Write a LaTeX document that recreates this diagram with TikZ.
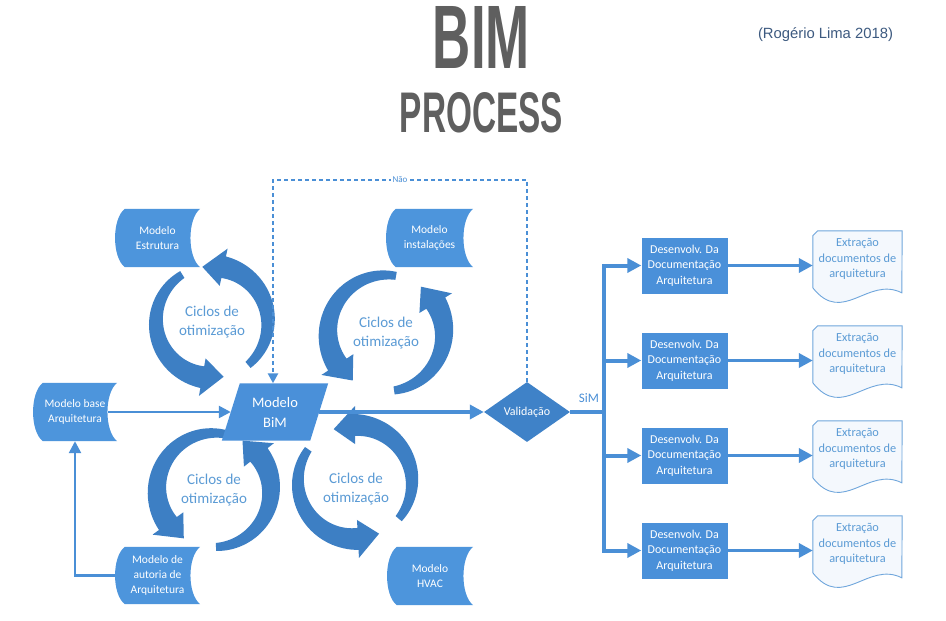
\documentclass[tikz,border=0pt]{standalone}
\usepackage{graphicx}
\usepackage{fontspec}
\setmainfont{Carlito}
\newfontfamily\titlefont{Liberation Sans}
\usetikzlibrary{arrows.meta,shapes.geometric,calc}
\pgfdeclarelayer{bg}\pgfdeclarelayer{shp}\pgfsetlayers{bg,shp,main}
\definecolor{nodeblue}{HTML}{4A90D9}
\definecolor{sdfill}{HTML}{4D95DC}
\definecolor{diamblue}{HTML}{3F82C8}
\definecolor{arrowblue}{HTML}{3D7FC4}
\definecolor{linkblue}{HTML}{4A8FD6}
\definecolor{cyctext}{HTML}{5B9BD5}
\definecolor{docline}{HTML}{6FA6DC}
\definecolor{docfill}{HTML}{F4F8FD}
\definecolor{titlegray}{HTML}{5F5F5F}
\definecolor{creditcol}{HTML}{3D5A80}
% tapered circular block arrow: cx, cy, a1, a2 (ccw on page), R
\newcommand\cycarrow[5]{%
\begin{pgfonlayer}{bg}
\fill[arrowblue,shift={(#1,#2)}]
 plot[domain=#3:#4-22,samples=40,variable=\t] ({0-(\t)}:{#5+4+7*(\t-(#3))/((#4)-22-(#3))})
 -- ({0-((#4)-22)}:{#5+19}) -- ({0-(#4)}:{#5}) -- ({0-((#4)-22)}:{#5-19})
 -- plot[domain=#4-22:#3,samples=40,variable=\t] ({0-(\t)}:{#5-4-7*(\t-(#3))/((#4)-22-(#3))})
 -- cycle;
\end{pgfonlayer}}
% stored-data shape behind a named node
\newcommand\sdshape[1]{%
\begin{pgfonlayer}{shp}
\fill[sdfill] ($(#1.north west)+(10,0)$) -- (#1.north east)
 .. controls ($(#1.north east)+(-13,10)$) and ($(#1.south east)+(-13,-10)$) .. (#1.south east)
 -- ($(#1.south west)+(10,0)$)
 .. controls ($(#1.south west)+(-3,-10)$) and ($(#1.north west)+(-3,10)$) .. ($(#1.north west)+(10,0)$) -- cycle;
\end{pgfonlayer}}
% document shape behind a named node
\newcommand\docshape[1]{%
\begin{pgfonlayer}{shp}
\filldraw[fill=docfill,draw=docline,line width=0.9pt]
 ($(#1.north west)+(0,5)$) -- ($(#1.north west)+(5,0)$) -- (#1.north east)
 -- ($(#1.north west)+(89,62)$)
 .. controls ($(#1.north west)+(55,45)$) and ($(#1.north west)+(30,95)$) .. ($(#1.north west)+(0,57)$)
 -- cycle;
\end{pgfonlayer}}
\begin{document}
\begin{tikzpicture}[x=1pt,y=-1pt,
 sdnode/.style={minimum width=85pt,minimum height=58pt,inner sep=0pt,align=center,text=white,font=\fontsize{11.5}{15}\selectfont},
 devbox/.style={fill=nodeblue,minimum width=86pt,minimum height=56pt,inner sep=0pt,align=center,text=white,font=\fontsize{12}{15.5}\selectfont},
 docnode/.style={minimum width=89pt,minimum height=56pt,inner sep=0pt,align=center,text=cyctext,font=\fontsize{12.3}{15.5}\selectfont},
 cyclabel/.style={align=center,text=cyctext,font=\fontsize{15}{19}\selectfont},
 link/.style={draw=linkblue,line width=2.5pt,-{Triangle[length=12pt,width=12pt]}},
 midlink/.style={draw=linkblue,line width=3.5pt,-{Triangle[length=14pt,width=14pt]}},
 biglink/.style={draw=linkblue,line width=4pt,-{Triangle[length=14pt,width=14pt]}},
 dashlink/.style={draw=linkblue,line width=2.5pt,dash pattern=on 4pt off 3pt,-{Triangle[length=10pt,width=10pt]}}]
\useasboundingbox (0,0) rectangle (946,621);
\begin{pgfonlayer}{bg}
\fill[white] (0,0) rectangle (946,621);
\end{pgfonlayer}
% title
\node[inner sep=0pt] (tbim) at (481.5,37) {\resizebox{97pt}{62pt}{\titlefont\bfseries\color{titlegray}BIM}};
\node[inner sep=0pt] (tproc) at (481.5,113) {\resizebox{163pt}{40pt}{\titlefont\bfseries\color{titlegray}PROCESS}};
\node[inner sep=0pt] (credit) at (825.5,35) {\resizebox{135pt}{!}{\titlefont\color{creditcol}(Rogério Lima 2018)}};
% cycles
\cycarrow{212}{322}{-50}{100}{56}
\cycarrow{212}{322}{122}{282}{56}
\cycarrow{386}{333}{80}{235}{58}
\cycarrow{386}{333}{278}{413}{58}
\cycarrow{214}{490}{75}{238}{57}
\cycarrow{214}{490}{272}{420}{57}
\cycarrow{355}{482}{-40}{112}{57}
\cycarrow{355}{482}{145}{295}{57}
\node[cyclabel] (c1) at (212,322) {Ciclos de\\otimização};
\node[cyclabel] (c2) at (386,333) {Ciclos de\\otimização};
\node[cyclabel] (c3) at (214,490) {Ciclos de\\otimização};
\node[cyclabel] (c4) at (356,489) {Ciclos de\\otimização};
% stored-data models
\node[sdnode] (mEst) at (157.5,238) {Modelo\\Estrutura};
\node[sdnode,minimum width=87pt] (mInst) at (429.5,238) {Modelo\\instalações};
\node[sdnode,minimum width=84pt] (mBase) at (75,412) {Modelo base\\Arquitetura};
\node[sdnode,minimum height=57pt] (mAut) at (157.5,575.5) {Modelo de\\autoria de\\Arquitetura};
\node[sdnode,minimum width=86pt] (mHvac) at (430,576) {Modelo\\HVAC};
\sdshape{mEst}\sdshape{mInst}\sdshape{mBase}\sdshape{mAut}\sdshape{mHvac}
% BIM model parallelogram
\node[minimum width=106pt,minimum height=57pt,inner sep=0pt,align=center,text=white,font=\fontsize{14.5}{20}\selectfont] (mBim) at (275,412) {Modelo\\BiM};
\begin{pgfonlayer}{shp}
\fill[nodeblue] ($(mBim.north west)+(18,0)$) -- (mBim.north east) -- ($(mBim.south east)+(-18,0)$) -- (mBim.south west) -- cycle;
\end{pgfonlayer}
% validation
\node[diamond,fill=diamblue,minimum width=86pt,minimum height=60pt,inner sep=0pt,text=white,font=\fontsize{12}{14}\selectfont] (val) at (527,412) {Validação};
% development boxes
\node[devbox] (d1) at (684.5,265.5) {Desenvolv. Da\\Documentação\\Arquitetura};
\node[devbox] (d2) at (684.5,360.5) {Desenvolv. Da\\Documentação\\Arquitetura};
\node[devbox] (d3) at (684.5,455.5) {Desenvolv. Da\\Documentação\\Arquitetura};
\node[devbox] (d4) at (684.5,550.5) {Desenvolv. Da\\Documentação\\Arquitetura};
% documents
\node[docnode] (x1) at (857.5,259) {Extração\\documentos de\\arquitetura};
\node[docnode] (x2) at (857.5,354) {Extração\\documentos de\\arquitetura};
\node[docnode] (x3) at (857.5,449) {Extração\\documentos de\\arquitetura};
\node[docnode] (x4) at (857.5,544) {Extração\\documentos de\\arquitetura};
\docshape{x1}\docshape{x2}\docshape{x3}\docshape{x4}
% connectors
\draw[link] ($(mBase.east)+(-9,0)$) -- ($(mBim.west)+(9,0)$);
\draw[midlink] ($(mBim.east)+(-9,0)$) -- (val.west);
\coordinate (sp) at (604,412);
\draw[draw=linkblue,line width=4pt] (val.east) -- (sp);
\draw[biglink] (sp) |- (d1.west);
\draw[biglink] (sp) |- (d2.west);
\draw[biglink] (sp) |- (d3.west);
\draw[biglink] (sp) |- (d4.west);
\draw[midlink] (d1.east) -- (d1.east -| x1.west);
\draw[midlink] (d2.east) -- (d2.east -| x2.west);
\draw[midlink] (d3.east) -- (d3.east -| x3.west);
\draw[midlink] (d4.east) -- (d4.east -| x4.west);
\draw[link] (mAut.west) -| (mBase.south);
\coordinate (loop) at (400,180);
\draw[dashlink] (val.north) |- (loop) -| ($(mBim.north)+(-2,0)$);
\node[fill=white,inner sep=1.5pt,text=linkblue,font=\fontsize{9}{10}\selectfont] (nao) at (loop) {Não};
\node[text=linkblue,font=\fontsize{13}{15}\selectfont,inner sep=0pt] (sim) at (589,398) {SiM};
\end{tikzpicture}
\end{document}
